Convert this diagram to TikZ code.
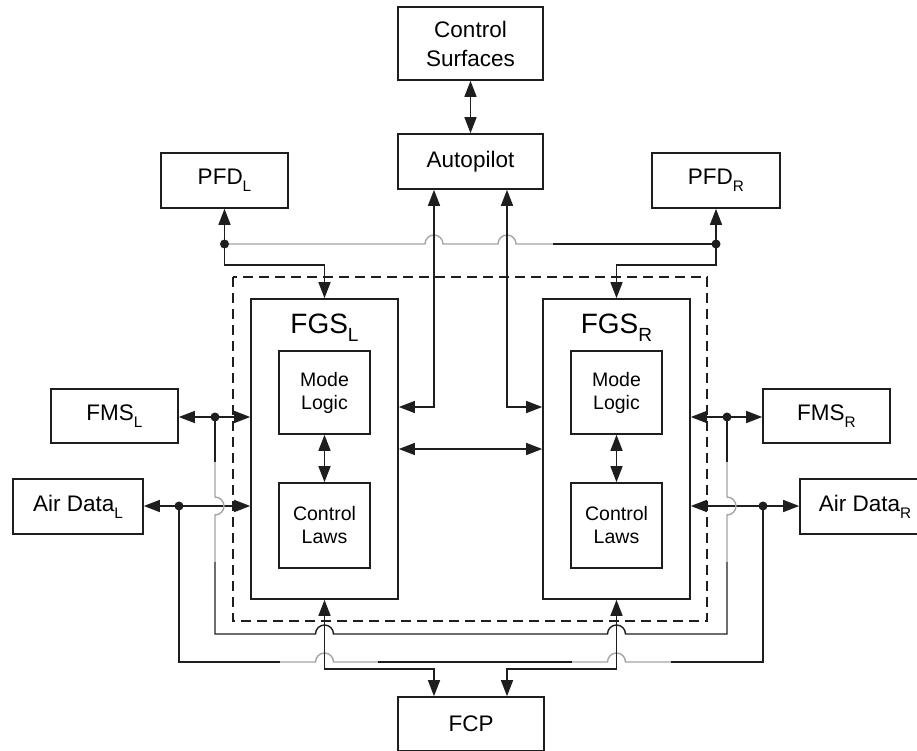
\documentclass[tikz,border=0pt]{standalone}
\usepackage{fontspec}
\setmainfont{Liberation Sans}
\usetikzlibrary{arrows.meta}
\newcommand{\sidx}[1]{\raisebox{-0.3em}{\scalebox{0.68}{#1}}}

\definecolor{custcol_grey}{RGB}{165, 165, 165}
\definecolor{custcol_dark}{RGB}{30, 30, 30}

\tikzset{
  blk/.style={draw=custcol_dark, line width=1.6pt, align=center, inner sep=0pt,
    font=\fontsize{22.5pt}{29pt}\selectfont},
  inblk/.style={blk, font=\fontsize{19.5pt}{23pt}\selectfont},
  title/.style={inner sep=0pt, font=\fontsize{28pt}{30pt}\selectfont},
  wire/.style={line width=1.4pt, custcol_dark},
  hop/.style={line width=1.4pt, custcol_grey},
  >={Triangle[length=16pt,width=12pt]}
}

\begin{document}
\begin{tikzpicture}[x=1pt,y=-1pt]
\useasboundingbox (0,0) rectangle (917,751);

% blocks
\node[blk, minimum width=145pt, minimum height=73pt] (surf) at (470.5,43.5) {Control\\Surfaces};
\node[blk, minimum width=145pt, minimum height=55pt] (ap) at (470.5,161.5) {Autopilot};
\node[blk, minimum width=127pt, minimum height=55pt] (pfdl) at (224.5,180.5) {PFD\sidx{L}};
\node[blk, minimum width=128pt, minimum height=55pt] (pfdr) at (716,180.5) {PFD\sidx{R}};

\draw[line width=1.4pt, custcol_dark, dash pattern=on 10pt off 6pt] (233,277) rectangle (707,621);

\node[blk, minimum width=147pt, minimum height=300pt] (fgsl) at (324.5,449) {};
\node[blk, minimum width=147pt, minimum height=300pt] (fgsr) at (616.5,449) {};
\node[title, anchor=base] (tfgsl) at (324.5,333) {FGS\sidx{L}};
\node[title, anchor=base] (tfgsr) at (616.5,333) {FGS\sidx{R}};
\node[inblk, minimum width=91pt, minimum height=83pt] (mll) at (324.5,392.5) {Mode\\Logic};
\node[inblk, minimum width=91pt, minimum height=85pt] (cll) at (324.5,525.5) {Control\\Laws};
\node[inblk, minimum width=91pt, minimum height=83pt] (mlr) at (616.5,392.5) {Mode\\Logic};
\node[inblk, minimum width=91pt, minimum height=85pt] (clr) at (616.5,525.5) {Control\\Laws};

\node[blk, minimum width=127pt, minimum height=54pt] (fmsl) at (114.5,416) {FMS\sidx{L}};
\node[blk, minimum width=130pt, minimum height=55pt] (adl) at (78,506.5) {Air Data\sidx{L}};
\node[blk, minimum width=127pt, minimum height=54pt] (fmsr) at (826.5,416) {FMS\sidx{R}};
\node[blk, minimum width=130pt, minimum height=55pt] (adr) at (865,506.5) {Air Data\sidx{R}};
\node[blk, minimum width=146pt, minimum height=54pt] (fcp) at (471,724) {FCP};

% junctions
\coordinate (jl) at (224.5,244);
\coordinate (jr) at (716,244);
\coordinate (apl) at (434,407);
\coordinate (apr) at (507,407);
\coordinate (dfl) at (215,417);
\coordinate (dal) at (179,506);
\coordinate (dfr) at (727,417);
\coordinate (dar) at (763,506);
\coordinate (bl) at (324.5,669);
\coordinate (br) at (616.5,669);

% top
\draw[wire, <->] (surf) -- (ap);
\draw[wire, ->] (jl) -- (pfdl);
\draw[wire, ->] (jr) -- (pfdr);
\draw[wire, ->] (jl) -- ++(0,21) -| (fgsl);
\draw[wire, ->] (jr) -- ++(0,21) -| (fgsr);
\draw[hop] (jl) -- (425,244) arc[start angle=180, end angle=360, radius=9]
  -- (498,244) arc[start angle=180, end angle=360, radius=9] -- (553,244);
\draw[wire] (553,244) -- (jr);
\draw[wire, <->] (apl |- ap.south) -- (apl) -- (apl -| fgsl.east);
\draw[wire, <->] (apr |- ap.south) -- (apr) -- (apr -| fgsr.west);
\draw[wire, <->] (fgsl) -- (fgsr);
\draw[wire, <->] (mll) -- (cll);
\draw[wire, <->] (mlr) -- (clr);

% sides
\draw[wire, <->] (fmsl.east |- dfl) -- (fgsl.west |- dfl);
\draw[wire, <->] (adl.east |- dal) -- (fgsl.west |- dal);
\draw[wire, <->] (fgsr.east |- dfr) -- (fmsr.west |- dfr);
\draw[wire, <->] (fgsr.east |- dar) -- (adr.west |- dar);

% FMS loop
\draw[wire] (dfl) -- (215,462);
\draw[hop] (215,462) -- (215,497) arc[start angle=-90, end angle=90, radius=9] -- (215,562);
\draw[wire] (215,562) -- (215,634)
  -- (315.5,634) arc[start angle=180, end angle=360, radius=9]
  -- (607.5,634) arc[start angle=180, end angle=360, radius=9]
  -- (727,634) -- (727,562);
\draw[hop] (727,562) -- (727,515) arc[start angle=90, end angle=-90, radius=9] -- (727,462);
\draw[wire] (727,462) -- (dfr);

% air data loop
\draw[wire] (dal) -- (179,662) -- (280,662);
\draw[hop] (280,662) -- (315.5,662) arc[start angle=180, end angle=360, radius=9] -- (378,662);
\draw[wire] (378,662) -- (572,662);
\draw[hop] (572,662) -- (607.5,662) arc[start angle=180, end angle=360, radius=9] -- (671,662);
\draw[wire] (671,662) -- (763,662) -- (dar);

% FCP
\draw[wire, <->] (fgsl.south) -- (bl) -| (fcp.north -| apl);
\draw[wire, <->] (fgsr.south) -- (br) -| (fcp.north -| apr);

% dots
\foreach \p in {jl,jr,dfl,dal,dfr,dar}
  \fill[custcol_dark] (\p) circle (4.5);
\end{tikzpicture}
\end{document}
